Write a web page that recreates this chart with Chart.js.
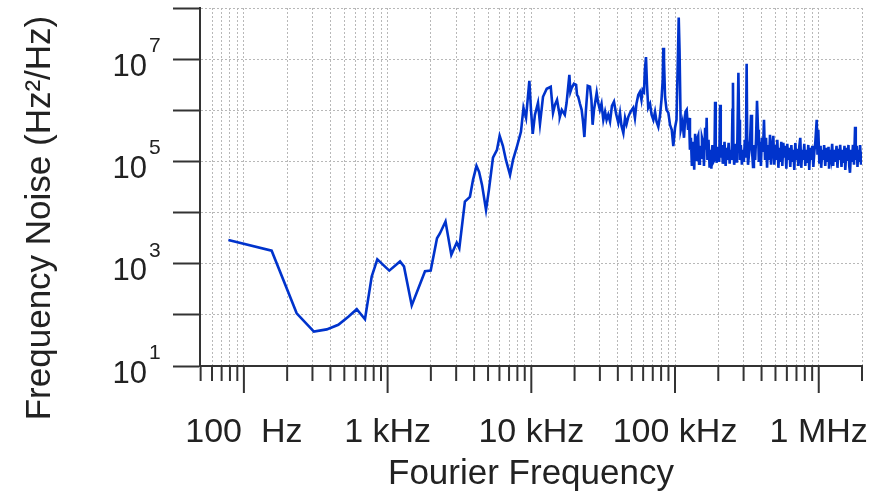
<!DOCTYPE html>
<html>
<head>
<meta charset="utf-8">
<script src="https://cdn.jsdelivr.net/npm/chart.js@4.4.0/dist/chart.umd.min.js"></script>
<style>
  html, body { margin: 0; padding: 0; background: #fff; }
  #wrap { width: 872px; height: 497px; }
</style>
</head>
<body>
<div id="wrap"><canvas id="chart" width="872" height="497"></canvas></div>
<script>
// Fourier frequency (Hz) and frequency noise (Hz^2/Hz)
var freqHz = [
  78, 156, 233, 307, 377, 454, 533, 610, 696, 775,
  848, 1027, 1220, 1300, 1472, 1821, 1995, 2207, 2316, 2529,
  2776, 3027, 3155, 3450, 3740, 3930, 4155, 4330, 4540, 4840,
  5070, 5410, 5770, 6020, 6340, 6660, 7110, 7460, 7970, 8470,
  8820, 9190, 9690, 9950, 10230, 10600, 11130, 11490, 12060, 12800,
  13650, 14160, 14600, 15100, 15600, 15800, 16300, 17100, 17600, 18400,
  18700, 19100, 19800, 20500, 20800, 21200, 21800, 22400, 22900, 23400,
  24000, 24700, 25600, 26200, 26700, 27300, 28500, 29100, 30000, 30800,
  31700, 32600, 33400, 34300, 35300, 36400, 37600, 38900, 40300, 41400,
  42400, 43700, 44900, 46000, 47300, 49000, 51200, 52600, 53900, 55500,
  57000, 58400, 59500, 60800, 61700, 62800, 63800, 65100, 67000, 68700,
  70700, 72600, 74400, 76500, 78600, 80500, 82100, 82900, 83800, 85200,
  87300, 89900, 92300, 94900, 97300, 100000, 102400, 104600, 106100, 107500,
  109600, 112800, 115500, 118300, 120600, 123200, 125100,
  127000, 129000, 131000, 134000, 136000, 138000, 140000, 142000, 145000, 147000,
  149000, 152000, 154000, 157000, 159000, 162000, 164000, 166000, 168000, 171000,
  174000, 176000, 179000, 182000, 185000, 188000, 190000, 192000, 195000, 197000,
  200000, 203000, 206000, 208000, 212000, 215000, 218000, 221000, 225000, 229000,
  232000, 236000, 240000, 244000, 248000, 251000, 253000, 255000, 258000, 262000,
  266000, 270000, 276000, 279000, 283000, 287000, 292000, 297000, 301000, 306000,
  311000, 315000, 318000, 322000, 328000, 333000, 338000, 343000, 349000, 354000,
  361000, 366000, 372000, 378000, 383000, 390000, 396000, 402000, 409000, 416000,
  423000, 430000, 437000, 444000, 451000, 458000, 466000, 473000, 483000, 491000,
  499000, 507000, 515000, 524000, 532000, 541000, 549000, 558000, 567000, 576000,
  585000, 595000, 604000, 614000, 624000, 634000, 645000, 655000, 666000, 676000,
  687000, 698000, 710000, 721000, 733000, 744000, 756000, 768000, 781000, 793000,
  806000, 819000, 832000, 846000, 859000, 873000, 888000, 902000, 917000, 932000,
  947000, 968000, 980000, 993000, 1010000, 1030000, 1040000, 1060000, 1080000, 1090000,
  1110000, 1130000, 1150000, 1170000, 1180000, 1200000, 1220000, 1240000, 1260000, 1280000,
  1300000, 1330000, 1350000, 1370000, 1390000, 1410000, 1440000, 1460000, 1490000, 1510000,
  1530000, 1560000, 1580000, 1610000, 1630000, 1650000, 1680000, 1700000, 1730000, 1760000,
  1790000, 1810000, 1840000, 1860000, 1890000, 1920000, 1940000, 1970000, 2000000
];
var noise = [
  2900, 1800, 107, 47, 52, 64, 92, 129, 82, 560,
  1220, 733, 1110, 885, 153, 713, 733, 3150, 3950, 6670,
  1490, 2590, 2010, 16400, 20300, 43600, 82000, 62600, 34800, 11300,
  27800, 118000, 169000, 317000, 202000, 107000, 54700, 107000, 202000, 380000,
  1120000, 710000, 3780000, 1020000, 347000, 820000, 1400000, 544000, 1840000, 2630000,
  2880000, 890000, 1280000, 1600000, 935000, 745000, 1020000, 820000, 1400000, 4950000,
  2300000, 2760000, 3300000, 3150000, 2000000, 1840000, 1340000, 1020000, 600000, 300000,
  1020000, 3000000, 2900000, 1600000, 520000, 1020000, 2200000, 1470000, 1020000, 1340000,
  650000, 935000, 650000, 820000, 600000, 1220000, 1470000, 855000, 570000, 890000,
  500000, 360000, 710000, 540000, 745000, 935000, 1120000, 710000, 1340000, 2000000,
  2300000, 1600000, 2500000, 2300000, 6200000, 11000000, 3150000, 1120000, 1340000, 820000,
  650000, 935000, 600000, 475000, 780000, 1600000, 3950000, 16700000, 9700000, 1840000,
  1020000, 890000, 520000, 415000, 200000, 455000, 650000, 9700000, 65000000, 15000000,
  415000, 600000, 290000, 935000, 1020000, 415000, 710000,
  169000, 290000, 82000, 242000, 68500, 347000, 107000, 265000, 317000, 90000,
  202000, 118000, 290000, 230000, 82000, 455000, 169000, 710000, 107000, 265000,
  75000, 169000, 72000, 210000, 98000, 107000, 1470000, 169000, 94000, 193000,
  135000, 98000, 1280000, 118000, 210000, 90000, 123000, 242000, 82000, 185000,
  107000, 230000, 90000, 169000, 107000, 1020000, 3450000, 169000, 86000, 148000,
  221000, 94000, 5400000, 650000, 107000, 210000, 86000, 169000, 98000, 265000,
  118000, 8100000, 265000, 86000, 148000, 265000, 820000, 169000, 78000, 210000,
  107000, 265000, 1530000, 415000, 98000, 242000, 82000, 290000, 154000, 650000,
  107000, 290000, 75000, 210000, 107000, 330000, 86000, 169000, 317000, 86000,
  210000, 107000, 265000, 75000, 185000, 98000, 242000, 82000, 230000, 118000,
  202000, 72000, 221000, 107000, 185000, 78000, 210000, 98000, 169000, 68500,
  230000, 107000, 177000, 82000, 202000, 290000, 75000, 169000, 107000, 221000,
  82000, 169000, 94000, 210000, 68500, 185000, 107000, 202000, 78000, 154000,
  242000, 650000, 135000, 415000, 90000, 202000, 75000, 169000, 107000, 210000,
  82000, 185000, 98000, 193000, 72000, 169000, 118000, 221000, 82000, 169000,
  98000, 202000, 75000, 177000, 107000, 210000, 78000, 169000, 94000, 202000,
  68500, 185000, 102000, 210000, 82000, 60000, 169000, 98000, 210000, 86000,
  475000, 107000, 202000, 78000, 169000, 98000, 210000, 86000, 154000
];

// axis ticks
var xTicks = [
  50, 60, 70, 80, 90,
  100, 200, 300, 400, 500, 600, 700, 800, 900,
  1000, 2000, 3000, 4000, 5000, 6000, 7000, 8000, 9000,
  10000, 20000, 30000, 40000, 50000, 60000, 70000, 80000, 90000,
  100000, 200000, 300000, 400000, 500000, 600000, 700000, 800000, 900000,
  1000000, 2000000
];
var xTickLabels = { 100: '100  Hz', 1000: '1 kHz', 10000: '10 kHz', 100000: '100 kHz', 1000000: '1 MHz' };
var yTicks = [10, 100, 1000, 10000, 100000, 1000000, 10000000, 100000000];
// labelled decades: exponent shown as superscript after "10"
var yTickExponents = { 10: '1', 1000: '3', 100000: '5', 10000000: '7' };

var xTitle = 'Fourier Frequency';
var yTitle = 'Frequency Noise (Hz²/Hz)';

var FONT = '"Liberation Sans", Arial, Helvetica, sans-serif';
var points = freqHz.map(function (f, i) { return { x: f, y: noise[i] }; });

// long ticks at decades, short ones between, hanging below the x axis
var xTickMarks = {
  id: 'xTickMarks',
  afterDraw: function (chart) {
    var sc = chart.scales.x, ctx = chart.ctx;
    ctx.save();
    ctx.strokeStyle = '#333';
    ctx.lineWidth = 2;
    sc.ticks.forEach(function (t) {
      var px = sc.getPixelForValue(t.value);
      var len = xTickLabels[t.value] ? 27 : 15;
      ctx.beginPath();
      ctx.moveTo(px, sc.top);
      ctx.lineTo(px, sc.top + len);
      ctx.stroke();
    });
    ctx.restore();
  }
};

// superscript exponents after the "10" labels, plus the rotated y title
var yAxisText = {
  id: 'yAxisText',
  afterDraw: function (chart) {
    var sc = chart.scales.y, ctx = chart.ctx;
    ctx.save();
    ctx.fillStyle = '#222';
    ctx.font = '21px ' + FONT;
    ctx.textAlign = 'left';
    ctx.textBaseline = 'alphabetic';
    sc.ticks.forEach(function (t) {
      var e = yTickExponents[t.value];
      if (!e) return;
      ctx.fillText(e, sc.right - 27 - 26 + 2, sc.getPixelForValue(t.value) - 7);
    });
    ctx.translate(sc.left + 40, (sc.top + sc.bottom) / 2 + 31);
    ctx.rotate(-Math.PI / 2);
    ctx.font = '35px ' + FONT;
    ctx.textAlign = 'center';
    ctx.textBaseline = 'middle';
    ctx.fillText(yTitle, 0, 0);
    ctx.restore();
  }
};

new Chart(document.getElementById('chart').getContext('2d'), {
  type: 'line',
  data: {
    datasets: [{
      data: points,
      borderColor: '#0033cc',
      borderWidth: 2.6,
      pointRadius: 0,
      fill: false,
      tension: 0
    }]
  },
  options: {
    responsive: false,
    animation: false,
    devicePixelRatio: 1,
    layout: { autoPadding: false, padding: { left: 0, right: 10, top: 8, bottom: 0 } },
    plugins: { legend: { display: false }, tooltip: { enabled: false } },
    scales: {
      x: {
        type: 'logarithmic',
        min: 49.5,
        max: 2000000,
        afterBuildTicks: function (sc) { sc.ticks = xTicks.map(function (v) { return { value: v }; }); },
        afterFit: function (sc) { sc.height = 131; sc.paddingLeft = 0; sc.paddingRight = 0; },
        grid: { color: '#b8b8b8', lineWidth: 1, drawTicks: false },
        border: { display: true, color: '#333', width: 2, dash: [2, 2] },
        ticks: {
          autoSkip: false, maxRotation: 0, minRotation: 0, padding: 46, color: '#222',
          font: { family: FONT, size: 34 },
          callback: function (v) { return xTickLabels[v] || ''; }
        },
        title: { display: true, text: xTitle, color: '#222', font: { family: FONT, size: 35 }, padding: { top: 0, bottom: 2 } }
      },
      y: {
        type: 'logarithmic',
        min: 10,
        max: 100000000,
        afterBuildTicks: function (sc) { sc.ticks = yTicks.map(function (v) { return { value: v }; }); },
        afterFit: function (sc) { sc.width = 200; sc.paddingTop = 0; sc.paddingBottom = 0; },
        grid: { color: '#b8b8b8', lineWidth: 1, tickLength: 27, tickColor: '#333', tickWidth: 2, tickBorderDash: [] },
        border: { display: true, color: '#333', width: 2, dash: [2, 2] },
        ticks: {
          autoSkip: false, padding: 26, labelOffset: 8, color: '#222',
          font: { family: FONT, size: 31 },
          callback: function (v) { return yTickExponents[v] ? '10' : ''; }
        }
      }
    }
  },
  plugins: [xTickMarks, yAxisText]
});
</script>
</body>
</html>
